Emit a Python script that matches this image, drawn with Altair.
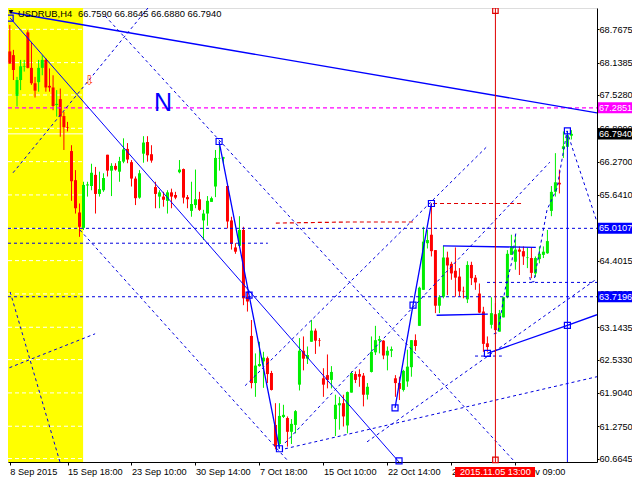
import json
import altair as alt
import pandas as pd

opens = [68.35,68.28,67.51,67.81,68.06,68.71,68.04,67.75,67.77,68.04,
 68.19,67.70,67.67,67.34,67.45,67.13,66.92,66.47,65.92,65.31,
 65.02,65.82,65.81,66.02,65.66,65.73,66.40,66.10,66.19,66.08,
 66.27,66.51,66.26,65.95,65.59,66.42,66.64,66.41,65.79,65.61,
 65.61,65.53,65.69,65.64,66.07,66.13,65.60,65.34,65.45,65.56,
 65.16,65.29,65.51,65.80,66.33,66.33,65.81,65.16,64.65,64.68,
 64.98,63.72,62.98,62.09,62.41,62.50,62.56,62.28,61.30,60.94,
 61.45,61.43,61.17,61.30,62.06,62.70,62.55,62.87,63.08,62.90,
 62.18,62.24,62.15,61.41,61.67,61.71,61.29,61.91,62.26,62.26,
 62.23,61.87,62.30,62.67,62.89,62.89,62.61,62.70,62.18,62.09,
 61.96,62.12,62.39,62.90,63.17,63.85,64.73,64.89,64.60,63.55,
 63.72,64.46,64.34,64.21,64.10,63.83,63.67,64.32,64.08,63.78,
 63.44,62.84,63.19,63.39,63.06,63.33,63.71,64.51,64.38,64.61,
 64.58,64.45,64.45,64.16,64.43,64.51,64.54,65.34,65.70,65.87,
 66.51,66.55,66.759]
closes = [68.12,68.00,67.81,68.07,68.07,68.04,67.75,67.61,68.04,68.19,
 67.67,67.67,67.32,67.36,67.12,66.92,66.91,65.90,65.39,65.04,
 65.83,65.84,66.06,65.66,65.75,65.96,66.10,66.19,66.12,66.28,
 66.50,66.31,65.95,65.58,66.05,66.63,66.39,66.29,65.66,65.69,
 65.55,65.69,65.61,65.59,66.12,65.59,65.56,65.47,65.56,65.36,
 65.29,65.53,65.58,66.34,66.34,66.35,65.14,64.72,64.57,64.98,
 63.69,63.63,62.09,62.42,62.45,62.57,62.26,61.96,60.89,61.47,
 61.49,61.17,61.32,61.56,62.70,62.55,62.62,63.08,62.89,62.89,
 62.06,62.15,62.30,61.68,61.71,61.46,61.92,62.28,62.15,62.21,
 61.87,62.02,62.68,62.90,62.92,62.61,62.70,62.73,62.09,61.98,
 62.32,62.40,62.90,62.79,63.89,64.76,64.79,64.58,63.55,63.71,
 64.46,64.31,64.16,64.08,63.82,63.82,64.32,64.07,63.99,63.42,
 62.83,62.77,63.41,63.09,63.41,63.71,64.53,64.67,64.61,64.57,
 64.48,64.46,64.17,64.45,64.53,64.57,64.77,65.70,65.88,65.84,
 66.56,66.77,66.794]
highs = [68.85,68.38,67.87,68.19,68.19,68.75,68.53,67.87,68.19,68.28,
 68.22,68.03,67.90,67.62,67.65,67.21,67.02,66.58,66.11,65.48,
 65.89,65.89,66.23,66.17,66.08,66.05,66.40,66.24,66.24,66.36,
 66.71,66.62,66.30,65.99,66.11,66.75,66.75,66.58,65.89,65.73,
 65.70,65.73,65.76,65.70,66.30,66.14,65.64,65.89,66.12,65.70,
 65.36,65.62,65.61,66.49,66.62,66.36,65.83,65.23,64.73,65.24,
 65.04,63.82,63.28,62.65,62.87,62.68,62.59,62.32,61.71,61.71,
 61.68,61.46,61.41,61.58,62.94,62.97,62.78,63.28,63.12,62.94,
 62.37,62.63,62.41,61.87,61.83,61.87,61.93,62.31,62.31,62.35,
 62.28,62.09,62.97,63.17,62.98,62.90,62.78,62.78,62.24,62.21,
 62.34,62.72,62.90,63.01,63.91,65.04,64.98,65.48,64.60,63.75,
 64.68,64.57,64.38,64.65,64.26,63.91,64.39,64.38,64.13,63.97,
 63.53,62.97,63.71,63.60,63.47,63.72,64.60,64.89,64.89,64.67,
 64.67,64.65,64.65,64.48,64.67,64.67,64.98,65.81,66.43,66.12,
 66.84,66.84,66.8645]
lows = [68.12,67.81,67.31,67.62,67.97,68.03,67.72,67.48,67.59,67.90,
 67.59,67.59,67.24,67.12,66.74,66.49,66.84,65.53,65.29,64.85,
 64.98,65.61,65.73,65.29,65.61,65.70,65.99,65.62,66.10,65.89,
 66.24,66.24,65.80,65.45,65.57,66.25,66.27,66.25,65.39,65.39,
 65.42,65.29,65.39,65.56,66.05,65.48,65.39,65.23,65.39,65.34,
 64.79,65.06,65.51,65.60,66.10,66.24,65.01,64.61,64.53,64.68,
 63.56,63.44,61.99,61.83,62.40,62.00,62.09,61.95,60.84,60.86,
 61.43,60.89,60.94,61.14,61.95,62.33,62.45,62.87,62.64,62.78,
 61.83,61.99,61.99,61.09,61.21,61.27,61.14,61.91,62.09,62.02,
 61.65,61.78,62.29,62.62,62.65,62.54,62.33,62.58,61.83,61.77,
 61.93,62.02,62.21,62.70,63.17,63.85,64.63,64.48,63.41,63.41,
 63.69,63.75,64.04,63.72,63.72,63.69,63.60,63.94,63.85,63.41,
 62.68,62.68,63.12,63.09,63.06,63.33,63.69,64.51,64.23,64.13,
 64.32,64.26,64.07,64.09,64.35,64.45,64.53,65.24,65.61,65.67,
 66.34,66.54,66.688]

tick_prices = [68.7675,68.1385,67.5280,66.8990,66.2700,65.6410,65.0120,64.4015,63.7725,63.1435,62.5330,61.9040,61.2750,60.6645]
tick_bars = [0,16,32,48,64,80,96,112,128]
tick_labels = ["8 Sep 2015","15 Sep 18:00","23 Sep 10:00","30 Sep 14:00","7 Oct 18:00","15 Oct 10:00","22 Oct 14:00","29 Oct 18:00","6 Nov 09:00"]

thin_lines = [("d",[0.1,98.9],[68.98,60.60])]
medium_lines = [
 ("t",[-0.1,148.4],[69.09,67.19]),
 ("w1",[53.9,61.4,69.0],[66.65,63.75,60.85]),
 ("w2",[97.9,102.4,107.0],[61.62,63.56,65.48]),
 ("w3",[121.0,141.0,148.4],[62.65,63.18,63.38]),
 ("b1",[109.9,133.1],[64.68,64.65]),
 ("b2",[108.3,121.1],[63.37,63.39]),
]
dashed_lines = [
 ("a",[25.4,127.4],[69.02,60.64]),
 ("c",[0.9,37.1],[66.06,69.26]),
 ("e",[19.1,70.9],[64.98,60.64]),
 ("f",[60.4,121.1],[62.04,66.57]),
 ("g",[70.4,136.6],[60.96,66.26]),
 ("h",[90.9,148.4],[60.98,64.06]),
 ("i",[70.4,148.4],[60.85,62.21]),
 ("j",[-0.1,22.9],[62.38,63.02]),
 ("k",[0.1,13.9],[63.81,60.60]),
 ("s1",[122.6,123.6,125.4,127.1,128.1],[63.02,63.04,63.85,64.38,64.92]),
 ("s2",[131.6,131.8,132.6,135.9,138.4,140.9],[64.09,64.00,64.00,65.36,65.77,66.85]),
 ("s3",[140.9,142.4,148.4],[66.85,66.49,65.13]),
 ("l1",[-0.5,66.1],[64.73,64.73]),
 ("l2",[120.9,148.4],[63.99,63.99]),
 ("l3",[117.9,124.6],[62.60,62.60]),
 ("l4",[-0.5,148.4],[65.0107,65.0107]),
 ("l5",[-0.5,148.4],[63.7196,63.7196]),
]
red_dashed = [
 ("r1",[68.1,85.9,103.1],[65.11,65.13,65.13]),
 ("r2",[107.4,129.8],[65.48,65.48]),
]
magenta_line = [("m",[-0.5,148.4],[67.2851,67.2851])]
box_i = [0.1,53.9,61.4,69.0,97.9,102.4,107.0,121.0,141.0,141.0,98.9]
box_p = [68.98,66.65,63.75,60.85,61.62,63.56,65.48,62.65,66.85,63.18,60.62]
vline_bar = 123
forecast_bar = 141
forecast_top = 66.85
last_price = 66.7940
tags = [("67.2851",67.2851,"#ff00ff"),("66.7940",66.7940,"#000000"),("65.0107",65.0107,"#0000ff"),("63.7196",63.7196,"#0000ff")]

FONT = "Liberation Sans"
FS = 9.2
PLOT_W, PLOT_H = 589, 454
RIGHT = 35
xscale = alt.Scale(domain=[-0.5,16,148.4], range=[0,59.5,PLOT_W], nice=False, zero=False)
yscale = alt.Scale(domain=[60.60,69.17], nice=False, zero=False)
label_map = json.dumps({str(b):l for b,l in zip(tick_bars,tick_labels)})
x_axis = alt.Axis(values=tick_bars, labelExpr=f"{label_map}[''+datum.value]",
    labelAlign="left", labelFont=FONT, labelFontSize=FS, labelColor="black", tickColor="black", domainColor="black",
    tickSize=3, labelPadding=2, labelOverlap=False, labelFlush=False, grid=False, orient="bottom")
y_axis = alt.Axis(values=tick_prices, format=".4f", orient="right",
    labelFont=FONT, labelFontSize=FS, labelColor="black", tickColor="black", domainColor="black",
    tickSize=2, labelPadding=0, labelOverlap=False, labelFlush=False, grid=False)
X = alt.X("i:Q", scale=xscale, title=None, axis=x_axis)
Y = alt.Y("p:Q", scale=yscale, title=None, axis=y_axis)

def lines_df(segs):
    return pd.DataFrame([{"s":s,"i":a,"p":b} for s,xs,ys in segs for a,b in zip(xs,ys)])

def line_layer(segs, color, width, dash=None):
    kw = {"color":color,"strokeWidth":width,"clip":True}
    if dash: kw["strokeDash"] = dash
    return alt.Chart(lines_df(segs)).mark_line(**kw).encode(x=X,y=Y,detail="s:N")

cdf = pd.DataFrame({"i":list(range(len(opens))),"o":opens,"c":closes,"h":highs,"p":lows})
cdf["up"] = [c>=o for o,c in zip(opens,closes)]
ccolor = alt.Color("up:N", scale=alt.Scale(domain=[True,False], range=["#00ee00","#ff0000"]), legend=None)

yellow = alt.Chart(pd.DataFrame({"i":[-0.5],"i2":[19.9]})).mark_rect(color="#ffff00").encode(
    x=X, x2="i2:Q", y=alt.value(0), y2=alt.value(PLOT_H))
grid = alt.Chart(pd.DataFrame({"p":tick_prices,"i":[0.0]*len(tick_prices)})).mark_rule(color="white",strokeDash=[4,3]).encode(
    y=Y, x=alt.value(0), x2=alt.value(PLOT_W))
last = alt.Chart(pd.DataFrame({"p":[last_price]})).mark_rule(color="white").encode(y=Y, x=alt.value(0), x2=alt.value(PLOT_W))
wick = alt.Chart(cdf).mark_rule(strokeWidth=1).encode(x=X,y=Y,y2="h:Q",color=ccolor)
body = alt.Chart(cdf).mark_rule(strokeWidth=3).encode(
    x=X, y=alt.Y("o:Q",scale=yscale,title=None,axis=y_axis), y2="c:Q", color=ccolor)

vred = alt.Chart(pd.DataFrame({"i":[vline_bar]})).mark_rule(color="#e00000").encode(x=X,y=alt.value(0),y2=alt.value(PLOT_H))
vblue = alt.Chart(pd.DataFrame({"i":[forecast_bar],"p":[forecast_top],"p2":[60.60]})).mark_rule(color="#0000ff").encode(x=X,y=Y,y2="p2:Q")
boxes = alt.Chart(pd.DataFrame({"i":box_i,"p":box_p})).mark_point(shape="square",filled=False,size=36,color="#0000ff",strokeWidth=1.2,opacity=1).encode(x=X,y=Y)
redbox = alt.Chart(pd.DataFrame({"i":[vline_bar,vline_bar],"p":[69.12,60.64]})).mark_point(shape="square",filled=False,size=30,color="#e00000",strokeWidth=1.2,opacity=1).encode(x=X,y=Y)

tagdf = pd.DataFrame([{"t":t,"p":p,"lo":p-0.104,"hi":p+0.104,"col":c} for t,p,c in tags])
tagrect = alt.Chart(tagdf).mark_rect().encode(
    y=alt.Y("lo:Q",scale=yscale,title=None,axis=y_axis), y2="hi:Q", x=alt.value(PLOT_W+1), x2=alt.value(PLOT_W+RIGHT),
    color=alt.Color("col:N",scale=None,legend=None))
tagtext = alt.Chart(tagdf).mark_text(font=FONT,fontSize=FS,color="white",align="left",baseline="middle").encode(
    y=Y, x=alt.value(PLOT_W+2), text="t:N")

datedf = pd.DataFrame({"i":[112.9],"i2":[132.9],"t":["2015.11.05 13:00"],"m":[vline_bar]})
daterect = alt.Chart(datedf).mark_rect(color="#ff0000").encode(x=X,x2="i2:Q",y=alt.value(PLOT_H+5),y2=alt.value(PLOT_H+15))
datetext = alt.Chart(datedf).mark_text(font=FONT,fontSize=FS,color="white",baseline="middle").encode(
    x=alt.X("m:Q",scale=xscale,title=None,axis=x_axis), y=alt.value(PLOT_H+10), text="t:N")

hdr1 = alt.Chart(pd.DataFrame({"t":["USDRUB,H4"]})).mark_text(font=FONT,fontSize=9.4,color="black",align="left",baseline="alphabetic").encode(
    x=alt.value(10), y=alt.value(9), text="t:N")
hdr2 = alt.Chart(pd.DataFrame({"t":["66.7590 66.8645 66.6880 66.7940"]})).mark_text(font=FONT,fontSize=9.4,color="black",align="left",baseline="alphabetic").encode(
    x=alt.value(70), y=alt.value(9), text="t:N")
tri = alt.Chart(pd.DataFrame({"t":[1]})).mark_point(shape="triangle-down",filled=True,size=22,color="black",opacity=1).encode(
    x=alt.value(3), y=alt.value(4))
enn = alt.Chart(pd.DataFrame({"i":[39.9],"p":[67.38],"t":["N"]})).mark_text(font=FONT,fontSize=25,color="#0000ff",baseline="middle").encode(
    x=X,y=Y,text="t:N")
arrow = alt.Chart(pd.DataFrame({"i":[21.4],"p":[67.79],"t":["\u21e9"]})).mark_text(font="DejaVu Sans",fontSize=13,color="#ff4000",baseline="middle").encode(
    x=X,y=Y,text="t:N")

chart = alt.layer(
    yellow, grid, last, wick, body,
    line_layer(magenta_line,"#ff00ff",1.2,[4,3]),
    line_layer(thin_lines,"#0000ff",1),
    line_layer(medium_lines,"#0000ff",1.3),
    line_layer(dashed_lines,"#0000e0",1,[3,3]),
    line_layer(red_dashed,"#e00000",1.2,[4,3]),
    vred, vblue, boxes, redbox, enn, arrow, hdr1, hdr2, tri,
    tagrect, tagtext, daterect, datetext,
).properties(width=PLOT_W, height=PLOT_H, padding={"left":0,"top":0,"right":RIGHT,"bottom":16},
             autosize=alt.AutoSizeParams(type="none")
).configure_view(stroke="black", strokeWidth=1).configure(background="white")

chart.save("out.html", embed_options={"renderer":"svg","actions":False})
